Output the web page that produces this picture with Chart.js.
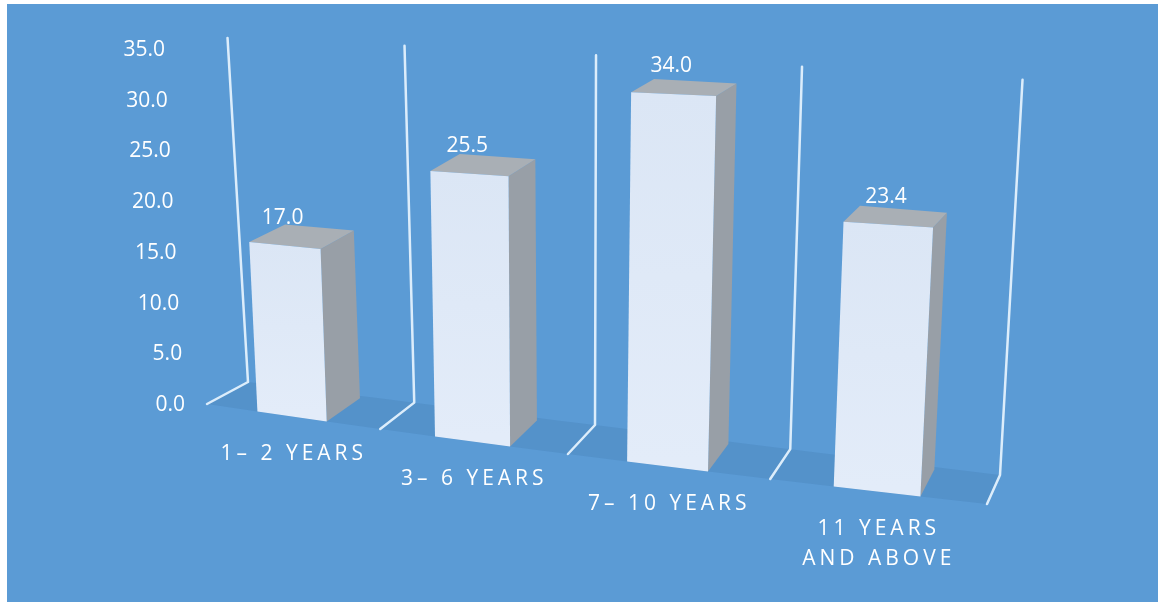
<!DOCTYPE html>
<html>
<head>
<meta charset="utf-8">
<script src="https://cdn.jsdelivr.net/npm/chart.js@4"></script>
<style>
  html, body { margin: 0; padding: 0; background: #ffffff; }
  #wrap { position: relative; width: 1158px; height: 602px; }
</style>
</head>
<body>
<div id="wrap"><canvas id="grafico"></canvas></div>
<script>
// dados do gráfico
const categorias = ['1– 2 YEARS', '3– 6 YEARS', '7– 10 YEARS', ['11 YEARS', 'AND ABOVE']];
const valores = [17.0, 25.5, 34.0, 23.4];
const eixoMin = 0;
const eixoMax = 35;
const eixoPasso = 5;

const corFundo = '#5b9bd5';
const corTexto = '#ffffff';

/**
 * Projeção "3D" simples: u = posição no eixo x (0..1), v = fração do valor (0..1),
 * z = profundidade (0 = frente, 1 = fundo). Devolve ponto na tela.
 */
const projetar = (area, u, v, z) => {
  const W = area.right - area.left;
  const fx = area.left + W * (0.851 * u + 0.149 * u * u);
  const fy = area.bottom - 1 + 100 * u;
  const bx = area.left + 41 + 636 * u + 116 * u * u;
  const by = area.bottom - 23 + 79 * u + 14 * u * u;
  const hf = 344 + 63 * u;
  const hb = 336 + 50 * u;
  const x = fx + (bx - fx) * z;
  const y = fy + (by - fy) * z;
  const h = hf + (hb - hf) * z;
  return { x: x + v * (-20 + 42 * u), y: y - v * h };
};

const poligono = (ctx, pts, cor) => {
  ctx.beginPath();
  pts.forEach((p, i) => (i ? ctx.lineTo(p.x, p.y) : ctx.moveTo(p.x, p.y)));
  ctx.closePath();
  ctx.fillStyle = cor;
  ctx.fill();
};

const plugin3d = {
  id: 'plugin3d',
  beforeDraw(chart) {
    const { ctx, chartArea: area, scales } = chart;
    const W = area.right - area.left;
    ctx.save();
    ctx.fillStyle = '#ffffff';
    ctx.fillRect(0, 0, chart.width, chart.height);
    ctx.fillStyle = corFundo;
    ctx.fillRect(7, 4, chart.width - 7, chart.height - 4);

    // piso
    const piso = [];
    for (let i = 0; i <= 20; i++) piso.push(projetar(area, i / 20, 0, 0));
    for (let i = 20; i >= 0; i--) piso.push(projetar(area, i / 20, 0, 1));
    poligono(ctx, piso, 'rgba(30, 70, 120, 0.11)');

    // linhas divisórias entre categorias (a parede passa um pouco do máximo)
    ctx.strokeStyle = '#dcedfb';
    ctx.lineWidth = 2.5;
    ctx.lineJoin = 'round';
    ctx.lineCap = 'round';
    for (let i = 0; i <= categorias.length; i++) {
      const u = (scales.x.getPixelForValue(i - 0.5) - area.left) / W;
      const a = projetar(area, u, 1.024, 1);
      const b = projetar(area, u, 0, 1);
      const c = projetar(area, u, 0, 0);
      ctx.beginPath();
      ctx.moveTo(a.x, a.y);
      ctx.lineTo(b.x, b.y);
      ctx.lineTo(c.x, c.y);
      ctx.stroke();
    }

    // rótulos do eixo y
    ctx.fillStyle = corTexto;
    ctx.font = '21px "Open Sans"';
    ctx.textAlign = 'right';
    ctx.textBaseline = 'middle';
    const span = eixoMax - eixoMin;
    scales.y.ticks.forEach(t => {
      const v = (t.value - eixoMin) / span;
      const p = projetar(area, 0, v, 0);
      ctx.fillText(t.value.toFixed(1), p.x - 22, scales.y.getPixelForValue(t.value));
    });

    // rótulos das categorias
    ctx.font = '21px "Open Sans"';
    ctx.letterSpacing = '4px';
    ctx.textAlign = 'center';
    categorias.forEach((cat, i) => {
      const u = (scales.x.getPixelForValue(i) - area.left) / W;
      const p = projetar(area, u, 0, 0);
      const linhas = Array.isArray(cat) ? cat : [cat];
      linhas.forEach((l, k) => ctx.fillText(l, p.x + 2, p.y + 38 + k * 30));
    });
    ctx.restore();
  },
  afterDatasetsDraw(chart) {
    const { ctx, chartArea: area, scales } = chart;
    const W = area.right - area.left;
    const meta = chart.getDatasetMeta(0);
    const zFundo = 0.92;
    ctx.save();
    meta.data.forEach((el, i) => {
      const u0 = (el.x - el.width / 2 - area.left) / W;
      const u1 = (el.x + el.width / 2 - area.left) / W;
      const v = (scales.y.bottom - el.y) / (scales.y.bottom - scales.y.top);
      const P = (u, vv, z) => projetar(area, u, vv, z);

      // lateral direita
      poligono(ctx, [P(u1, 0, 0), P(u1, 0, zFundo), P(u1, v, zFundo), P(u1, v, 0)], '#989fa7');
      // topo
      poligono(ctx, [P(u0, v, 0), P(u1, v, 0), P(u1, v, zFundo), P(u0, v, zFundo)], '#a9afb5');
      // frente
      const f = [P(u0, 0, 0), P(u1, 0, 0), P(u1, v, 0), P(u0, v, 0)];
      const grad = ctx.createLinearGradient(0, f[3].y, 0, f[0].y);
      grad.addColorStop(0, '#dbe6f5');
      grad.addColorStop(1, '#e3ecf9');
      poligono(ctx, f, grad);

      // rótulo do valor
      const topo = P((u0 + u1) / 2, v, 0);
      ctx.fillStyle = corTexto;
      ctx.font = '21px "Open Sans"';
      ctx.textAlign = 'center';
      ctx.textBaseline = 'middle';
      ctx.fillText(valores[i].toFixed(1), topo.x - 2, topo.y - 28);
    });
    ctx.restore();
  }
};

document.addEventListener('DOMContentLoaded', () => {
  const ctx = document.getElementById('grafico').getContext('2d');
  new Chart(ctx, {
    type: 'bar',
    data: {
      labels: categorias,
      datasets: [{
        label: 'Valores',
        data: valores,
        backgroundColor: 'rgba(0,0,0,0)',
        borderWidth: 0,
        categoryPercentage: 1.0,
        barPercentage: 0.4
      }]
    },
    options: {
      responsive: true,
      maintainAspectRatio: false,
      animation: false,
      layout: { padding: { left: 207, right: 171, top: 50, bottom: 197 } },
      plugins: {
        legend: { display: false },
        tooltip: { enabled: false }
      },
      scales: {
        x: { display: false, offset: true },
        y: { display: false, min: eixoMin, max: eixoMax, ticks: { stepSize: eixoPasso } }
      }
    },
    plugins: [plugin3d]
  });
});
</script>
</body>
</html>
